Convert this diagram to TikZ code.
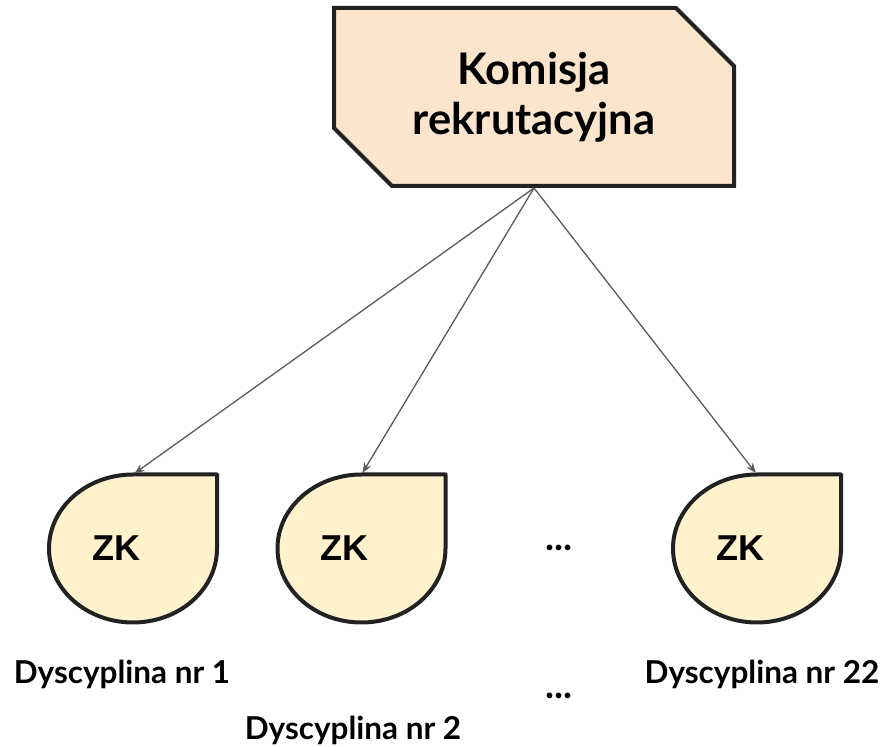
\documentclass[tikz,border=0pt]{standalone}
\usepackage{fontspec}
\setmainfont{Lato}
\newfontfamily\zkfont{Liberation Sans}
\usetikzlibrary{shapes.misc,arrows.meta}

\definecolor{komisjafill}{HTML}{FCE5CD}
\definecolor{dropfill}{HTML}{FFF2CC}
\definecolor{edgeline}{HTML}{222222}
\definecolor{arrowgray}{HTML}{5A5A5A}

\tikzset{
  komisjabox/.style={chamfered rectangle, chamfered rectangle corners={north east,south west},
    chamfered rectangle xsep=29pt, chamfered rectangle ysep=29pt,
    draw=edgeline, line width=4pt, fill=komisjafill, align=center, inner sep=0pt,
    minimum width=400pt, minimum height=178pt,
    font=\fontsize{43.5}{50}\selectfont\bfseries},
  zklabel/.style={font=\zkfont\fontsize{36}{42}\selectfont\bfseries},
  dysclabel/.style={anchor=base, font=\fontsize{31.5}{36}\selectfont\bfseries},
  dotslabel/.style={anchor=base, font=\fontsize{38}{40}\selectfont\bfseries},
  zkarrow/.style={draw=arrowgray, line width=1.3pt, -{Stealth[length=10pt,width=8pt]}, shorten >=2pt},
  zkdrop/.pic={
    \draw[draw=edgeline, line width=4pt, fill=dropfill, line join=round]
      (0,74) -- (84,74) -- (84,0) arc[start angle=0, end angle=-270, x radius=84, y radius=74] -- cycle;
    \node[zklabel] (-label) at (-17,0) {ZK};
    \coordinate (-top) at (0,74);
  }
}

\begin{document}
\begin{tikzpicture}[x=1pt, y=1pt]
  \useasboundingbox (0,0) rectangle (893,746);

  \node[komisjabox] (komisja) at (534,649) {Komisja\\rekrutacyjna};

  \pic (zk1) at (133,197.5) {zkdrop};
  \pic (zk2) at (361.5,197.5) {zkdrop};
  \pic (zk22) at (757,197.5) {zkdrop};

  \node[dysclabel] (dysc1) at (122,62) {Dyscyplina nr 1};
  \node[dysclabel] (dysc2) at (353,6) {Dyscyplina nr 2};
  \node[dysclabel] (dysc22) at (762,62) {Dyscyplina nr 22};

  \node[dotslabel] (dotsup) at (559,195) {...};
  \node[dotslabel] (dotsdown) at (559,47) {...};

  \draw[zkarrow] (komisja.south) -- (zk1-top);
  \draw[zkarrow] (komisja.south) -- (zk2-top);
  \draw[zkarrow] (komisja.south) -- (zk22-top);
\end{tikzpicture}
\end{document}
